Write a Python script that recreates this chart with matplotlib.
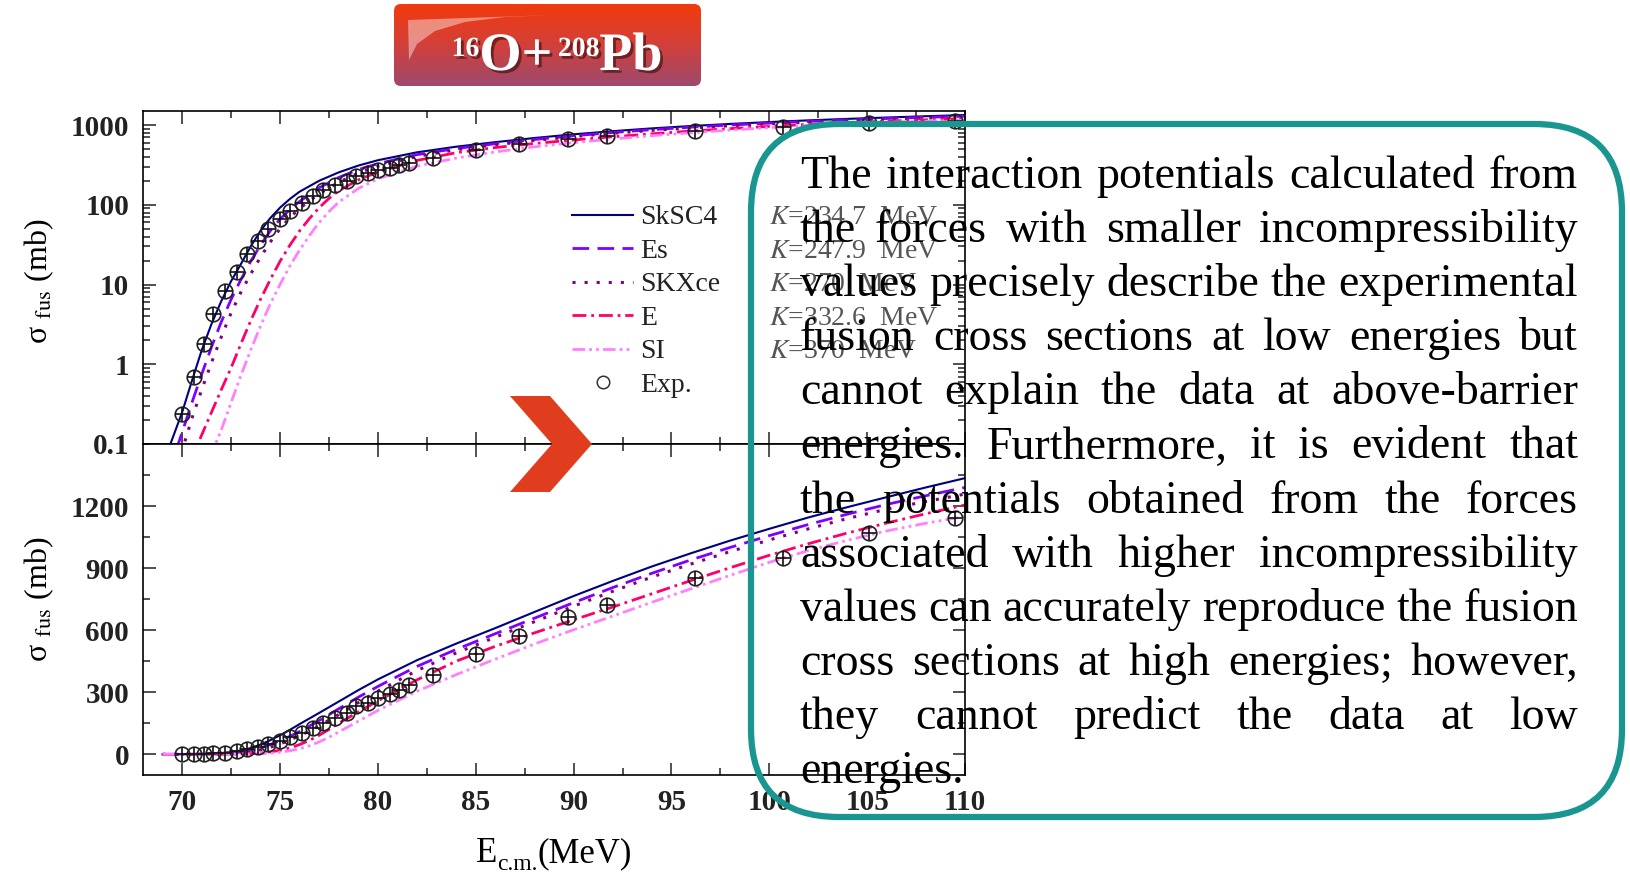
import matplotlib
matplotlib.use("Agg")
import matplotlib.pyplot as plt
import matplotlib.patheffects as pe
import matplotlib.ticker as mticker
import numpy as np
from matplotlib.colors import LinearSegmentedColormap
from matplotlib.lines import Line2D
from matplotlib.patches import FancyBboxPatch, Polygon

plt.rcParams['font.family'] = ['Liberation Serif', 'DejaVu Serif']
plt.rcParams['mathtext.fontset'] = 'stix'
plt.rcParams['lines.scale_dashes'] = False

W, H = 1630, 874

# experimental fusion cross sections (mb)
e_exp = [70.0, 70.6, 71.1, 71.6, 72.2, 72.8, 73.3, 73.9, 74.4, 75.0, 75.5, 76.1,
         76.7, 77.2, 77.8, 78.4, 78.9, 79.5, 80.0, 80.6, 81.1, 81.6, 82.8, 85.0,
         87.2, 89.7, 91.7, 96.2, 100.7, 105.1, 109.5]
sig_exp = [0.24, 0.69, 1.8, 4.3, 8.2, 14.5, 24, 35, 49, 66, 83, 105,
           128, 153, 176, 199, 232, 250, 272, 293, 312, 336, 385, 485,
           571, 665, 720, 850, 950, 1070, 1140]

# calculated curves
e_sksc4 = [69.0, 69.4, 70.0, 70.5, 71.0, 71.5, 72.0, 72.5, 73.0, 73.5, 74.0, 74.5,
           75.0, 75.5, 76.0, 77.0, 78.0, 79.0, 80.0, 82.0, 84.0, 86.0, 88.0, 90.0,
           92.0, 94.0, 96.0, 98.0, 100.0, 102.0, 104.0, 106.0, 108.0, 110.0]
sig_sksc4 = [0.03, 0.1, 0.25, 0.62, 1.5, 3.2, 6.2, 11, 18, 30, 47, 68,
             92, 118, 146, 200, 255, 310, 362, 455, 535, 610, 688, 765,
             838, 908, 972, 1033, 1090, 1145, 1195, 1243, 1290, 1335]

e_es = [69.0, 69.8, 70.0, 70.5, 71.0, 71.5, 72.0, 72.5, 73.0, 73.5, 74.0, 74.5,
        75.0, 75.5, 76.0, 77.0, 78.0, 79.0, 80.0, 82.0, 84.0, 86.0, 88.0, 90.0,
        92.0, 94.0, 96.0, 98.0, 100.0, 102.0, 104.0, 106.0, 108.0, 110.0]
sig_es = [0.01, 0.1, 0.14, 0.33, 0.75, 1.65, 3.4, 6.5, 11.5, 19.5, 31, 47,
          66, 87, 110, 163, 220, 276, 328, 425, 507, 583, 658, 733,
          806, 875, 940, 1000, 1057, 1111, 1161, 1208, 1250, 1290]

e_skxce = [69.0, 70.1, 70.5, 71.0, 71.5, 72.0, 72.5, 73.0, 73.5, 74.0, 74.5, 75.0,
           75.5, 76.0, 76.5, 77.0, 78.0, 79.0, 80.0, 82.0, 84.0, 86.0, 88.0, 90.0,
           92.0, 94.0, 96.0, 98.0, 100.0, 102.0, 104.0, 106.0, 108.0, 110.0]
sig_skxce = [0.005, 0.1, 0.21, 0.48, 1.05, 2.2, 4.4, 8, 13.5, 22, 34, 50,
             69, 90, 112, 137, 192, 250, 305, 405, 490, 566, 641, 716,
             788, 857, 920, 980, 1036, 1090, 1140, 1185, 1222, 1258]

e_e = [69.0, 70.8, 71.5, 72.0, 72.5, 73.0, 73.5, 74.0, 74.5, 75.0, 75.5, 76.0,
       76.5, 77.0, 77.5, 78.0, 79.0, 80.0, 82.0, 84.0, 86.0, 88.0, 90.0, 92.0,
       94.0, 96.0, 98.0, 100.0, 102.0, 104.0, 106.0, 108.0, 110.0]
sig_e = [0.003, 0.1, 0.25, 0.48, 0.9, 1.8, 3.5, 6.5, 11.5, 19.5, 31, 47,
         67, 92, 120, 150, 205, 258, 360, 450, 522, 587, 650, 712,
         776, 840, 902, 962, 1018, 1070, 1118, 1163, 1205]

e_si = [69.0, 71.7, 72.0, 72.5, 73.0, 73.5, 74.0, 74.5, 75.0, 75.5, 76.0, 76.5,
        77.0, 77.5, 78.0, 79.0, 80.0, 82.0, 84.0, 86.0, 88.0, 90.0, 92.0, 94.0,
        96.0, 98.0, 100.0, 102.0, 104.0, 106.0, 108.0, 110.0]
sig_si = [0.001, 0.1, 0.15, 0.33, 0.72, 1.5, 3.0, 5.7, 10, 17, 27, 41,
          60, 82, 108, 160, 212, 305, 385, 460, 533, 602, 668, 735,
          800, 865, 928, 985, 1035, 1080, 1117, 1150]

curve_names = ['SkSC4', 'Es', 'SKXce', 'E', 'SI']
k_values = ['234.7', '247.9', '270', '332.6', '370']

paragraph = [
    "The interaction potentials calculated from",
    "the forces with smaller incompressibility",
    "values precisely describe the experimental",
    "fusion cross sections at low energies but",
    "cannot explain the data at above-barrier",
    "energies. Furthermore, it is evident that",
    "the potentials obtained from the forces",
    "associated with higher incompressibility",
    "values can accurately reproduce the fusion",
    "cross sections at high energies; however,",
    "they cannot predict the data at low",
    "energies.",
]

fig = plt.figure(figsize=(W / 100, H / 100), dpi=100)


def frac_box(x0, y0, x1, y1):
    # pixel box (top-left origin) -> figure fraction rect
    return [x0 / W, 1 - y1 / H, (x1 - x0) / W, (y1 - y0) / H]


ax_log = fig.add_axes(frac_box(143, 111, 965, 444))
ax_lin = fig.add_axes(frac_box(143, 444, 965, 775))

styles = [
    dict(color='#000080', lw=1.5, ls='-'),
    dict(color='#8000ff', lw=2.0, ls=(0, (12, 6))),
    dict(color='#800080', lw=2.2, ls=(0, (2.2, 6.5))),
    dict(color='#ff0066', lw=2.0, ls=(0, (10, 3.5, 2, 3.5))),
    dict(color='#ff80ff', lw=2.0, ls=(0, (9, 3, 2, 3, 2, 3))),
]
curves = [(e_sksc4, sig_sksc4), (e_es, sig_es), (e_skxce, sig_skxce),
          (e_e, sig_e), (e_si, sig_si)]

tick_font = dict(fontsize=21, fontweight='bold')
for ax in (ax_log, ax_lin):
    for (ex, sx), st, name in zip(curves, styles, curve_names):
        ax.plot(ex, sx, label=name, **st)
    ax.plot(e_exp, sig_exp, 'o', ms=10.5, mfc='none', mec='#222', mew=1.2, zorder=3)
    ax.plot(e_exp, sig_exp, '+', ms=10.5, mec='#111', mew=1.2, zorder=3)
    ax.set_xlim(68, 110)
    ax.xaxis.set_minor_locator(mticker.MultipleLocator(2.5))
    ax.tick_params(which='both', direction='in', top=True, right=True,
                   width=1.1, colors='#222', pad=10)
    ax.tick_params(which='major', length=9)
    ax.tick_params(which='minor', length=5)
    for sp in ax.spines.values():
        sp.set_linewidth(1.2)

xt = list(range(70, 111, 5))
ax_log.set_xticks(xt)
ax_log.tick_params(labelbottom=False)
ax_lin.set_xticks(xt, [str(v) for v in xt], **tick_font)

ax_log.set_yscale('log')
ax_log.set_ylim(0.1, 1500)
ax_log.set_yticks([0.1, 1, 10, 100, 1000], ['0.1', '1', '10', '100', '1000'], **tick_font)
ax_log.yaxis.set_minor_locator(mticker.LogLocator(subs=np.arange(2, 10)))
ax_log.yaxis.set_minor_formatter(mticker.NullFormatter())

ax_lin.set_ylim(-100, 1500)
ax_lin.set_yticks([0, 300, 600, 900, 1200], ['0', '300', '600', '900', '1200'], **tick_font)
ax_lin.yaxis.set_minor_locator(mticker.MultipleLocator(150))

handles = ax_log.get_lines()[:5] + [Line2D([], [], ls='none', marker='o', ms=9,
                                           mfc='none', mec='#333', mew=1.1)]
leg = ax_log.legend(handles, curve_names + ['Exp.'], loc='upper left',
                    bbox_to_anchor=(572 / W, 1 - 205 / H), bbox_transform=fig.transFigure,
                    frameon=False, fontsize=20, handlelength=2.2, handletextpad=0.25,
                    labelspacing=0.29, borderpad=0, borderaxespad=0)
for t in leg.get_texts():
    t.set_color('#222')

# overlay in pixel coordinates for slide decorations
ov = fig.add_axes([0, 0, 1, 1])
ov.set_zorder(5)
ov.patch.set_visible(False)
ov.axis('off')

# title badge
badge = FancyBboxPatch((394, 4), 307, 82, boxstyle='round,pad=0,rounding_size=7',
                       fc='none', ec='none')
ov.add_patch(badge)
cmap = LinearSegmentedColormap.from_list('badge', ['#f23a0c', '#d2403a', '#9c4a6e'])
img = ov.imshow(np.linspace(0, 1, 256)[:, None], cmap=cmap, extent=(394, 701, 86, 4),
                aspect='auto', origin='upper')
img.set_clip_path(badge)
gloss = Polygon([(408, 20), (553, 15), (505, 17), (465, 22), (435, 31), (417, 44), (409, 60)],
                closed=True, fc='white', ec='none', alpha=0.42)
ov.add_patch(gloss)
gloss.set_clip_path(badge)

# chevron
ov.add_patch(Polygon([(510, 396), (550, 396), (592, 444), (550, 492), (510, 492), (552, 444)],
                     closed=True, fc='#e03d1f', ec='none'))

# teal box
ov.add_patch(FancyBboxPatch((751, 124), 871, 693, boxstyle='round,pad=0,rounding_size=88',
                            fc='none', ec='#18968f', lw=4.5))

ov.set_xlim(0, W)
ov.set_ylim(H, 0)

for yc in (281, 599):
    ov.text(39, yc, r'σ $_{\mathrm{fus}}$ (mb)', rotation=90, ha='center', va='center',
            fontsize=23)

fig.canvas.draw()
r = fig.canvas.get_renderer()


def width_of(s, **kw):
    t = ov.text(0, 0, s, **kw)
    w = t.get_window_extent(r).width
    t.remove()
    return w


def place_pieces(pieces, xc, base, **kw):
    # pieces: (text, fontsize, vertical offset in px)
    total = sum(width_of(s, fontsize=fs, **{k: v for k, v in kw.items() if k == 'fontweight'})
                for s, fs, dy in pieces)
    x = xc - total / 2
    for s, fs, dy in pieces:
        ov.text(x, base + dy, s, fontsize=fs, va='baseline', **kw)
        x += width_of(s, fontsize=fs, **{k: v for k, v in kw.items() if k == 'fontweight'})


# x label
place_pieces([('E', 25, 0), ('c.m.', 17, 8), ('(MeV)', 25, 0)], 554, 862, color='black')

# K labels aligned with legend rows
for t, kv in zip(leg.get_texts()[:5], k_values):
    bb = t.get_window_extent(r)
    yc = H - (bb.y0 + bb.y1) / 2
    ov.text(769, yc, r'$K$=' + kv + '  MeV', fontsize=20, color='#555', va='center', zorder=0)

# title text pieces
shadow = [pe.withSimplePatchShadow(offset=(2, -2), shadow_rgbFace='#3a0a0a', alpha=0.6)]
place_pieces([('16', 20, -14), ('O+', 39, 0), (' ', 16, 0), ('208', 20, -14), ('Pb', 39, 0)],
             557, 70, fontweight='bold', color='white', path_effects=shadow)

# justified paragraph
left, right, base, step = 800, 1578, 188, 54.1
fs = 33
space = width_of('a a', fontsize=fs) - width_of('aa', fontsize=fs)
for i, line in enumerate(paragraph):
    words = line.split()
    ws = [width_of(w, fontsize=fs) for w in words]
    if i < len(paragraph) - 1 and len(words) > 1:
        gap = (right - left - sum(ws)) / (len(words) - 1)
    else:
        gap = space
    x = left
    for w, wd in zip(words, ws):
        ov.text(x, base + i * step, w, fontsize=fs, color='black', va='baseline')
        x += wd + gap

fig.savefig('out.png', dpi=100)
